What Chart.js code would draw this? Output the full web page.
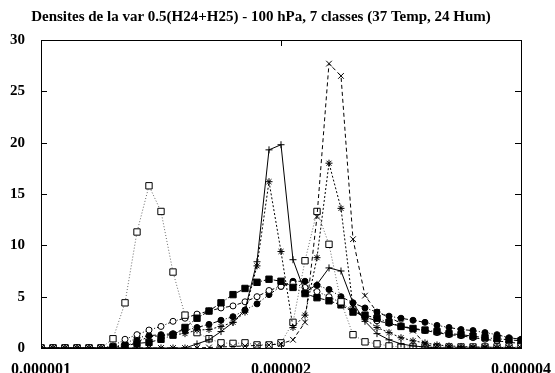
<!DOCTYPE html>
<html>
<head>
<meta charset="utf-8">
<script src="https://cdn.jsdelivr.net/npm/chart.js@4.4.1/dist/chart.umd.min.js"></script>
<style>
  html, body { margin: 0; padding: 0; background: #fff; }
  #wrap { width: 555px; height: 373px; position: relative; }
</style>
</head>
<body>
<div id="wrap"><canvas id="dens"></canvas></div>
<script>
// abscisses (echelle log, 41 classes entre 1e-6 et 4e-6)
const xVals = [
  1.0000e-6, 1.0353e-6, 1.0718e-6, 1.1096e-6, 1.1487e-6, 1.1892e-6, 1.2311e-6, 1.2746e-6, 1.3195e-6, 1.3660e-6,
  1.4142e-6, 1.4641e-6, 1.5157e-6, 1.5692e-6, 1.6245e-6, 1.6818e-6, 1.7411e-6, 1.8025e-6, 1.8661e-6, 1.9319e-6,
  2.0000e-6, 2.0705e-6, 2.1435e-6, 2.2191e-6, 2.2974e-6, 2.3784e-6, 2.4623e-6, 2.5491e-6, 2.6390e-6, 2.7321e-6,
  2.8284e-6, 2.9282e-6, 3.0314e-6, 3.1383e-6, 3.2490e-6, 3.3636e-6, 3.4822e-6, 3.6050e-6, 3.7321e-6, 3.8637e-6,
  4.0000e-6
];
const xTicks = [1e-6, 2e-6, 4e-6];
const yTicks = [0, 5, 10, 15, 20, 25, 30];

const classe1 = [0,0,0,0,0,0,0,0,0,0, 0,0,0,0.4,0.8,1.6,2.5,3.7,8.4,19.3, 19.8,8.6,5.4,6.2,7.8,7.5,4.4,2.6,1.4,0.8, 0.4,0.2,0.1,0,0,0,0,0,0,0, 0];
const classe2 = [0,0,0,0,0,0,0,0,0,0, 0,0,0,0,0.05,0.1,0.15,0.2,0.25,0.3, 0.4,0.8,2.5,12.8,27.7,26.5,10.6,5.1,3.5,3.0, 2.4,1.7,0.4,0,0,0,0,0,0,0, 0];
const classe3 = [0,0,0,0,0,0,0.05,0.2,0.6,1.1, 1.2,1.3,1.4,1.75,1.8,2.1,2.5,3.5,8.0,16.2, 9.4,2.0,3.2,8.8,18.0,13.6,4.0,2.8,2.0,1.5, 1.0,0.7,0.5,0.3,0.2,0.15,0.1,0.1,0.05,0.05, 0];
const classe4 = [0,0,0,0,0,0,0.9,4.4,11.3,15.8, 13.3,7.4,3.2,1.5,0.9,0.5,0.45,0.5,0.3,0.3, 0.5,2.5,8.5,13.3,10.1,4.5,1.3,0.6,0.4,0.2, 0.1,0.1,0.1,0.1,0.1,0.1,0.1,0.1,0.1,0.1, 0.1];
const classe5 = [0,0,0,0,0,0,0.1,0.2,0.45,0.55, 0.85,1.25,2.0,2.9,3.6,4.4,5.2,5.8,6.4,6.7, 6.5,5.9,5.3,4.9,4.6,4.2,3.5,3.2,2.9,2.5, 2.1,1.9,1.75,1.6,1.4,1.3,1.15,1.0,0.9,0.8, 0.7];
const classe6 = [0,0,0,0,0,0,0.2,0.85,1.3,1.75, 2.1,2.6,2.9,3.3,3.6,3.9,4.1,4.5,5.0,5.6, 6.0,6.3,5.9,5.5,5.0,4.4,3.6,3.0,2.65,2.4, 2.1,1.85,1.7,1.5,1.3,1.2,1.0,0.85,0.7,0.55, 0.45];
const classe7 = [0,0,0,0,0,0,0.1,0.4,1.0,1.2, 1.3,1.4,1.7,2.0,2.3,2.7,3.05,3.7,4.3,5.2, 6.0,6.5,6.5,6.1,5.7,5.0,4.4,3.9,3.5,3.1, 2.9,2.7,2.5,2.2,2.0,1.8,1.7,1.5,1.3,1.0, 0.85];

const FONT = "'Liberation Serif', 'DejaVu Serif', serif";

function pts(arr) {
  return arr.map((v, i) => ({ x: xVals[i], y: v }));
}

function serie(data, style, dash, opts) {
  return Object.assign({
    data: pts(data),
    borderColor: '#000',
    borderWidth: 1,
    borderDash: dash,
    pointStyle: style,
    pointRadius: 3.5,
    pointBorderColor: '#000',
    pointBackgroundColor: '#000',
    pointBorderWidth: 1,
    tension: 0,
    fill: false
  }, opts || {});
}

// cadre + graduations interieures facon gnuplot
const framePlugin = {
  id: 'frame',
  afterDraw(chart) {
    const { ctx, chartArea: a, scales } = chart;
    ctx.save();
    ctx.strokeStyle = '#000';
    ctx.lineWidth = 1;
    ctx.strokeRect(a.left + 0.5, a.top + 0.5, a.right - a.left, a.bottom - a.top);
    ctx.beginPath();
    yTicks.forEach(v => {
      const y = Math.round(scales.y.getPixelForValue(v)) + 0.5;
      ctx.moveTo(a.left, y); ctx.lineTo(a.left + 6, y);
      ctx.moveTo(a.right, y); ctx.lineTo(a.right - 6, y);
    });
    xTicks.forEach(v => {
      const x = Math.round(scales.x.getPixelForValue(v)) + 0.5;
      ctx.moveTo(x, a.bottom); ctx.lineTo(x, a.bottom - 6);
      ctx.moveTo(x, a.top); ctx.lineTo(x, a.top + 6);
    });
    ctx.stroke();
    ctx.restore();
  }
};

new Chart(document.getElementById('dens'), {
  type: 'line',
  data: {
    datasets: [
      serie(classe1, 'cross', []),
      serie(classe2, 'crossRot', [4, 3], { pointRadius: 4 }),
      serie(classe3, 'star', [2, 2], { pointRadius: 3.5 }),
      serie(classe4, 'rect', [1, 2], { borderColor: '#666', pointRadius: 4.5, pointBackgroundColor: '#fff' }),
      serie(classe5, 'rect', [5, 2, 1, 2], { pointRadius: 4.5 }),
      serie(classe6, 'circle', [4, 2, 1, 2, 1, 2], { pointRadius: 3, pointBackgroundColor: '#fff' }),
      serie(classe7, 'circle', [5, 2, 1, 2, 1, 2, 1, 2], { pointRadius: 3 })
    ]
  },
  options: {
    responsive: true,
    maintainAspectRatio: false,
    animation: false,
    layout: { padding: { left: 0, right: 33, top: 0, bottom: 0 } },
    plugins: {
      legend: { display: false },
      tooltip: { enabled: false },
      title: {
        display: true,
        text: 'Densites de la var 0.5(H24+H25) - 100 hPa, 7 classes (37 Temp, 24 Hum)',
        color: '#000',
        font: { family: FONT, size: 15, weight: 'bold' },
        padding: { top: 8, bottom: 14 }
      }
    },
    scales: {
      x: {
        type: 'logarithmic',
        min: 1e-6,
        max: 4e-6,
        afterBuildTicks: s => { s.ticks = xTicks.map(v => ({ value: v })); },
        afterFit: s => { s.height = 25; },
        grid: { display: false },
        border: { display: false },
        ticks: {
          color: '#000',
          padding: 4,
          maxRotation: 0,
          autoSkip: false,
          font: { family: FONT, size: 16, weight: 'bold' },
          callback: v => Number(v).toFixed(6)
        }
      },
      y: {
        min: 0,
        max: 30,
        afterBuildTicks: s => { s.ticks = yTicks.map(v => ({ value: v })); },
        afterFit: s => { s.width = 41; },
        grid: { display: false },
        border: { display: false },
        ticks: {
          color: '#000',
          padding: 8,
          font: { family: FONT, size: 15, weight: 'bold' }
        }
      }
    }
  },
  plugins: [framePlugin]
});
</script>
</body>
</html>
